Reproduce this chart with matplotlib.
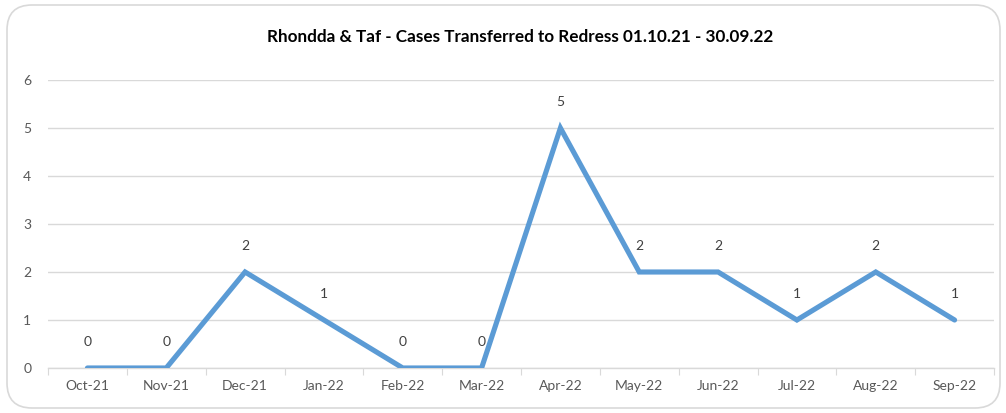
import matplotlib.pyplot as plt
from matplotlib.patches import FancyBboxPatch

# -------------------------
# Datos
# -------------------------
months = ["Oct-21", "Nov-21", "Dec-21", "Jan-22", "Feb-22", "Mar-22",
          "Apr-22", "May-22", "Jun-22", "Jul-22", "Aug-22", "Sep-22"]
cases = [0, 0, 2, 1, 0, 0, 5, 2, 2, 1, 2, 1]

title = "Rhondda & Taf - Cases Transferred to Redress 01.10.21 - 30.09.22"

plt.rcParams["font.family"] = ["Lato", "DejaVu Sans"]

fig = plt.figure(figsize=(10.06, 4.13), dpi=100)

# marco redondeado del gráfico (en pulgadas)
frame = FancyBboxPatch((0.07, 0.05), 9.93, 4.03,
                       boxstyle="round,pad=0,rounding_size=0.25",
                       transform=fig.dpi_scale_trans, facecolor="white",
                       edgecolor="#D9D9D9", linewidth=1.2, zorder=-1)
fig.patches.append(frame)

ax = fig.add_axes([48 / 1006, 45 / 413, 946 / 1006, 288 / 413])
ax.set_facecolor("none")

x = list(range(len(months)))
ax.plot(x, cases, color="#5B9BD5", linewidth=3.7, solid_capstyle="round",
        solid_joinstyle="miter", zorder=3)

for xi, v in zip(x, cases):
    ax.annotate(str(v), (xi, v), xytext=(0, 26), textcoords="offset pixels",
                ha="center", va="center", fontsize=10, color="#404040")

ax.set_xlim(-0.5, len(months) - 0.5)
ax.set_ylim(0, 6)
ax.set_yticks(range(0, 7))
ax.yaxis.grid(True, color="#D9D9D9", linewidth=1)
ax.set_axisbelow(True)

for s in ["top", "right", "left"]:
    ax.spines[s].set_visible(False)
ax.spines["bottom"].set_color("#D9D9D9")
ax.spines["bottom"].set_linewidth(1)

ax.set_xticks([i - 0.5 for i in range(len(months) + 1)])
ax.set_xticklabels([])
ax.set_xticks(x, minor=True)
ax.set_xticklabels(months, minor=True)
ax.tick_params(axis="x", which="major", length=5, color="#D9D9D9")
ax.tick_params(axis="x", which="minor", length=0, pad=9, labelsize=10, labelcolor="#595959")
ax.tick_params(axis="y", length=0, pad=12, labelsize=10, labelcolor="#595959")

fig.text(520 / 1006, 1 - 37 / 413, title, ha="center", va="center",
         fontsize=12.3, fontweight="bold", color="#000000")

fig.savefig("out.png", dpi=100)
